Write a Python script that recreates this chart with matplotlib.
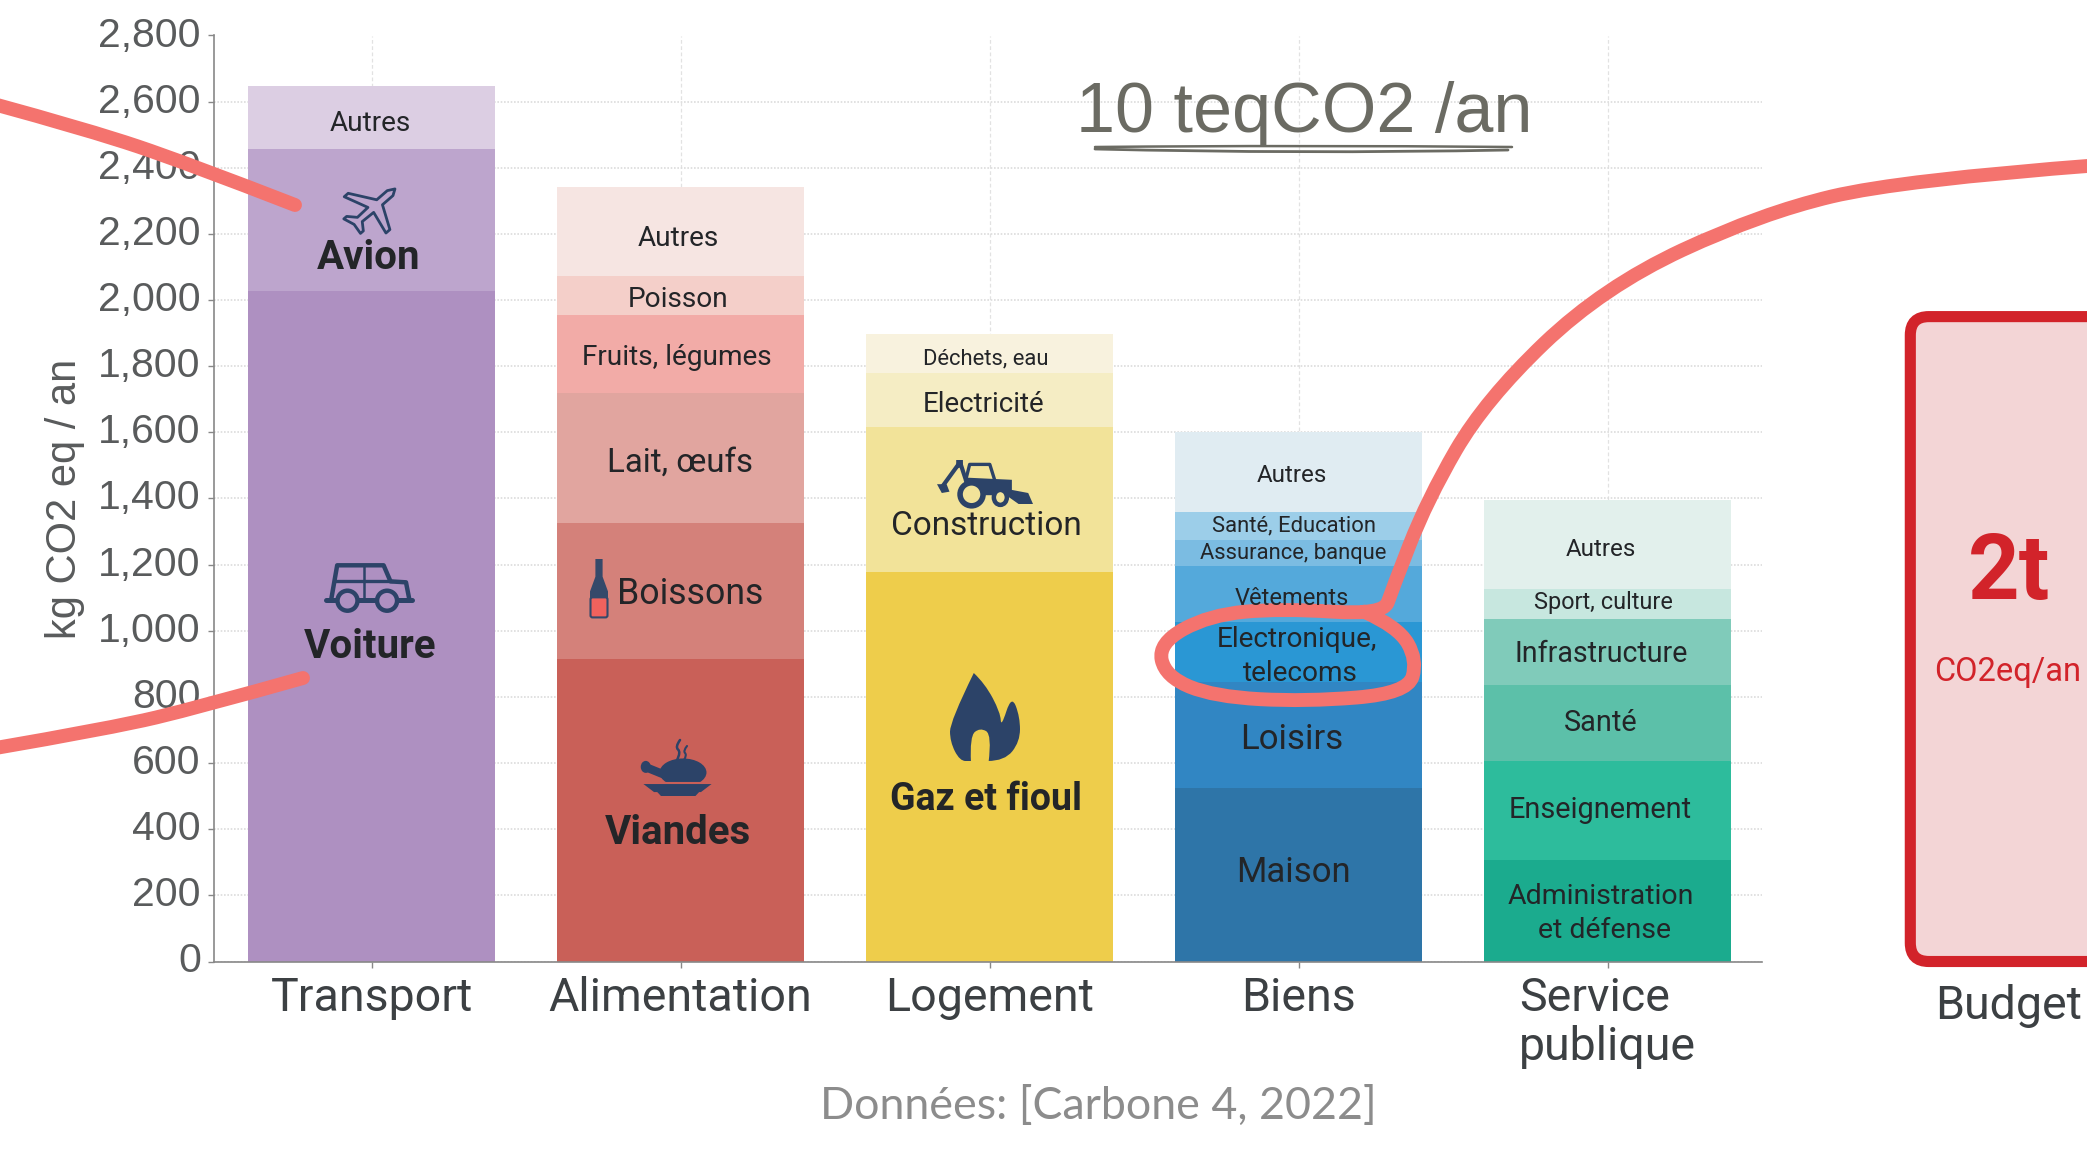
import matplotlib
matplotlib.use('Agg')
import matplotlib.pyplot as plt
from matplotlib.patches import FancyBboxPatch, PathPatch, Polygon, Ellipse, Wedge
from matplotlib.path import Path
from matplotlib.ticker import FuncFormatter
import numpy as np

categories = ['Transport', 'Alimentation', 'Logement', 'Biens', 'Service\npublique']

transport = [2027, 430, 191]
alimentation = [916, 411, 391, 238, 117, 270]
logement = [1177, 440, 161, 119]
biens = [524, 321, 182, 170, 79, 82, 242]
service = [306, 300, 230, 200, 91, 269]
budget = 1950

transport_colors = ['#ae90c1', '#bda5cd', '#dccee3']
alimentation_colors = ['#c96058', '#d4817a', '#e1a59f', '#f2aba7', '#f4cfc9', '#f6e5e2']
logement_colors = ['#eecd4b', '#f2e399', '#f5edc4', '#f8f2de']
biens_colors = ['#2e75a8', '#3186c3', '#2a97d4', '#54a9db', '#7bbce2', '#9ccee9', '#e0ecf2']
service_colors = ['#1bab8e', '#2dbc9c', '#5cc0a9', '#80cbba', '#c7e7df', '#e2f0ec']

# text, x, y (pixels), size, bold
labels = [
    ('Autres', 370, 123, 20.2, False), ('Avion', 369, 258, 29, True), ('Voiture', 370, 647, 29, True),
    ('Autres', 678, 238, 20.2, False), ('Poisson', 678, 299, 20.2, False),
    ('Fruits, légumes', 677, 357, 20.2, False), ('Lait, œufs', 680, 463, 23.8, False),
    ('Boissons', 690, 594, 25.7, False), ('Viandes', 678, 833, 29, True),
    ('Déchets, eau', 986, 359, 15.8, False), ('Electricité', 984, 404, 20, False),
    ('Construction', 986, 526, 24, False), ('Gaz et fioul', 986, 799, 27, True),
    ('Autres', 1292, 475, 17.4, False), ('Santé, Education', 1294, 526, 15.8, False),
    ('Assurance, banque', 1293, 553, 15.8, False), ('Vêtements', 1292, 598, 17, False),
    ('Electronique,', 1297, 639, 20.2, False), ('telecoms', 1300, 673, 20.2, False),
    ('Loisirs', 1292, 739, 25, False), ('Maison', 1293, 872, 25, False),
    ('Autres', 1601, 549, 17.4, False), ('Sport, culture', 1603, 602, 16.9, False),
    ('Infrastructure', 1601, 654, 20.6, False), ('Santé', 1601, 723, 20.8, False),
    ('Enseignement', 1600, 810, 20.8, False), ('Administration', 1601, 896, 20.5, False),
    ('et défense', 1604, 930, 20.5, False),
]

W, H = 2087, 1151
NAVY = '#2c4368'
SALMON = '#f4736e'
RED = '#d2232a'
ROBOTO = 'Roboto'
HELV = 'Liberation Sans'


def smooth_path(pts, closed=False):
    # quadratic spline through the midpoints of the given points
    pts = np.array(pts, dtype=float)
    verts = [pts[0]]
    codes = [Path.MOVETO]
    for i in range(1, len(pts) - 1):
        end = pts[i + 1] if i == len(pts) - 2 else (pts[i] + pts[i + 1]) / 2
        verts += [pts[i], end]
        codes += [Path.CURVE3, Path.CURVE3]
    return Path(verts, codes)


def stroke(ov, pts, lw=10, color=SALMON):
    ov.add_patch(PathPatch(smooth_path(pts), fill=False, ec=color, lw=lw,
                           capstyle='round', joinstyle='round'))


def draw_plane(ov, cx, cy, s):
    right = [(0, -1), (.13, -.78), (.13, -.3), (.95, .18), (.95, .36), (.13, .1),
             (.11, .6), (.38, .82), (.38, .95), (0, .86)]
    left = [(-x, y) for x, y in right[-2:0:-1]]
    p = np.array(right + left)
    a = np.radians(45)
    rot = np.array([[np.cos(a), -np.sin(a)], [np.sin(a), np.cos(a)]])
    p = p @ rot.T
    p = p * [s * 1.15, s] + [cx, cy]
    ov.add_patch(Polygon(p, closed=True, fill=False, ec=NAVY, lw=2, joinstyle='round'))


def draw_car(ov, x0, y0, w, h, bg):
    def m(pts):
        return [(x0 + x * w, y0 + y * h) for x, y in pts]
    body = m([(.06, .8), (.13, .05), (.67, .05), (.75, .4), (.93, .42), (.97, .8)])
    ov.plot(*zip(*body), color=NAVY, lw=3.2, solid_joinstyle='round')
    ov.plot(*zip(*m([(0, .8), (1, .8)])), color=NAVY, lw=3.6, solid_capstyle='round')
    ov.plot(*zip(*m([(.11, .4), (.75, .4)])), color=NAVY, lw=2.4)
    ov.plot(*zip(*m([(.44, .05), (.44, .8)])), color=NAVY, lw=1.8)
    for wx in [.25, .71]:
        ov.add_patch(Ellipse((x0 + wx * w, y0 + .82 * h), 20, 20, fc=bg, ec=NAVY, lw=3.2, zorder=3))


def draw_bottle(ov, x0, y0, w, h):
    shape = [(.3, 0), (.7, 0), (.7, .3), (1, .55), (1, .97), (0, .97), (0, .55), (.3, .3)]
    ov.add_patch(Polygon([(x0 + x * w, y0 + y * h) for x, y in shape], fc='#35496a', ec='none'))
    ov.add_patch(FancyBboxPatch((x0 + .5, y0 + .65 * h), w - 1, .34 * h, boxstyle='round,pad=0,rounding_size=2',
                                fc='#f0625d', ec='#35496a', lw=1.5))


def draw_roast(ov, x0, y0, w, h):
    cx = x0 + .58 * w
    ov.add_patch(Ellipse((cx, y0 + .58 * h), .68 * w, .5 * h, fc=NAVY, ec='none'))
    ov.plot([x0 + .07 * w, x0 + .33 * w], [y0 + .5 * h, y0 + .63 * h], color=NAVY, lw=6, solid_capstyle='round')
    ov.add_patch(Ellipse((x0 + .04 * w, y0 + .48 * h), 10, 12, fc=NAVY, ec='none'))
    ov.plot([x0 + .02 * w, x0 + w], [y0 + .76 * h, y0 + .76 * h], color='#c96058', lw=1.5, zorder=3)
    ov.add_patch(Polygon([(x0, y0 + .78 * h), (x0 + w, y0 + .78 * h), (x0 + .84 * w, y0 + .93 * h),
                          (x0 + .16 * w, y0 + .93 * h)], fc=NAVY, ec='none'))
    ov.add_patch(Polygon([(x0 + .2 * w, y0 + .92 * h), (x0 + .82 * w, y0 + .92 * h), (x0 + .76 * w, y0 + h),
                          (x0 + .26 * w, y0 + h)], fc=NAVY, ec='none'))
    stroke(ov, [(cx - 3, y0), (cx - 8, y0 + 7), (cx - 2, y0 + 12), (cx - 6, y0 + 20)], lw=1.8, color=NAVY)
    stroke(ov, [(cx + 4, y0 + 6), (cx, y0 + 11), (cx + 4, y0 + 15), (cx + 1, y0 + 20)], lw=1.5, color=NAVY)


def draw_backhoe(ov, x0, y0, w, h, bg):
    def m(pts):
        return [(x0 + x * w, y0 + y * h) for x, y in pts]
    ov.add_patch(Polygon(m([(.27, .62), (.3, .4), (.78, .45), (.78, .68), (.95, .75), (1, 1), (.85, 1), (.72, .8), (.3, .8)]),
                         fc=NAVY, ec='none'))
    ov.plot(*zip(*m([(.3, .45), (.34, .1), (.55, .1), (.6, .45)])), color=NAVY, lw=2.4)
    ov.plot(*zip(*m([(.05, .62), (.24, .05), (.3, .45)])), color=NAVY, lw=3)
    ov.add_patch(Polygon(m([(0, .55), (.1, .55), (.13, .72), (.05, .75)]), fc=NAVY, ec='none'))
    ov.add_patch(Polygon(m([(.2, 0), (.27, 0), (.27, .15), (.2, .2)]), fc=NAVY, ec='none'))
    ov.add_patch(Ellipse(m([(.36, .78)])[0], 23, 23, fc=bg, ec=NAVY, lw=4, zorder=3))
    ov.add_patch(Ellipse(m([(.66, .85)])[0], 13, 15, fc=bg, ec=NAVY, lw=3.2, zorder=3))


def draw_flame(ov, x0, y0, w, h, bg):
    def m(pts):
        return [(x0 + x * w, y0 + y * h) for x, y in pts]
    outline = m([(.34, 0), (.0, .55), (.0, .78), (.14, 1), (.3, 1), (.78, 1), (1, .78), (1, .5), (.88, .25),
                 (.73, .62), (.72, .45), (.5, .12), (.34, 0)])
    ov.add_patch(PathPatch(smooth_path(outline), fc=NAVY, ec='none'))
    hole = m([(.3, 1.02), (.28, .72), (.43, .62), (.6, .7), (.55, 1.02)])
    ov.add_patch(PathPatch(smooth_path(hole), fc=bg, ec='none'))


fig = plt.figure(figsize=(W / 100, H / 100), dpi=100, facecolor='white')
ax = fig.add_axes([214 / W, 1 - 961.5 / H, (1762 - 214) / W, (961.5 - 35.5) / H])

x_pos = np.arange(5)
series = [transport, alimentation, logement, biens, service]
colors = [transport_colors, alimentation_colors, logement_colors, biens_colors, service_colors]
for x, vals, cols in zip(x_pos, series, colors):
    bottoms = np.concatenate([[0], np.cumsum(vals)[:-1]])
    ax.bar(x, vals, width=0.8, bottom=bottoms, color=cols, zorder=2)

# budget bar runs off the right side of the picture
ax.add_patch(FancyBboxPatch((4.98, 0), 0.8, budget, boxstyle='round,pad=0,rounding_size=0.06',
                            mutation_aspect=936, fc='#f3d5d6', ec=RED, lw=8, clip_on=False, zorder=2))

ax.set_xlim(-0.51, 4.5)
ax.set_ylim(0, 2800)
ax.set_yticks(np.arange(0, 2801, 200))
ax.yaxis.set_major_formatter(FuncFormatter(lambda v, p: f'{int(v):,}'))
ax.set_xticks(x_pos)
ax.set_xticklabels(categories, fontfamily=ROBOTO, fontsize=33.5, color='#3c4043', linespacing=1.14,
                   multialignment='left')
for t in ax.get_yticklabels():
    t.set_fontfamily(HELV)
    t.set_verticalalignment('center')
ax.tick_params(axis='y', labelsize=29.5, labelcolor='#595b5c', color='#888888', length=4.5, width=1, pad=5)
ax.tick_params(axis='x', color='#888888', length=4.5, width=1, pad=6)
ax.grid(axis='y', color='#dcdcdc', ls=(0, (1, 1)), lw=1.2, zorder=0)
ax.grid(axis='x', color='#e2e2e2', ls=(0, (3, 2)), lw=0.9, zorder=0)
ax.set_axisbelow(True)
for s in ['top', 'right']:
    ax.spines[s].set_visible(False)
for s in ['left', 'bottom']:
    ax.spines[s].set_color('#888888')
    ax.spines[s].set_linewidth(1.2)

# overlay in picture pixels for the hand drawn notes and the labels
ov = fig.add_axes([0, 0, 1, 1], facecolor='none')
ov.set_xlim(0, W)
ov.set_ylim(H, 0)
ov.axis('off')

for text, x, y, size, bold in labels:
    ov.text(x, y, text, ha='center', va='center', fontfamily=ROBOTO, fontsize=size,
            fontweight='bold' if bold else 'normal', color='#232528')

ov.text(65, 499, 'kg CO2 eq / an', rotation=90, ha='center', va='center', fontfamily=HELV,
        fontsize=30, color='#595b5c')
ov.text(1304, 114, '10 teqCO2 /an', ha='center', va='center', fontfamily=HELV, fontsize=50.5, color='#6b6b63')
ov.text(1098, 1106, 'Données: [Carbone 4, 2022]', ha='center', va='center', fontfamily='Lato', fontsize=32.2,
        color='#8c8c8c')
ov.text(1935, 1006, 'Budget', ha='left', va='center', fontfamily=ROBOTO, fontsize=33.5, color='#3c4043')
ov.text(2009, 574, '2t', ha='center', va='center', fontfamily=ROBOTO, fontsize=65, fontweight='bold', color=RED)
ov.text(2008, 672, 'CO2eq/an', ha='center', va='center', fontfamily=ROBOTO, fontsize=23.5, color=RED)

stroke(ov, [(1095, 147), (1300, 145), (1512, 147)], lw=1.8, color='#6b6b63')
stroke(ov, [(1095, 149), (1300, 154), (1508, 150)], lw=2, color='#6b6b63')

draw_plane(ov, 373, 208, 27)
draw_car(ov, 326, 563, 86, 46, '#ae90c1')
draw_bottle(ov, 590, 559, 18, 59)
draw_roast(ov, 643, 740, 69, 56)
draw_backhoe(ov, 937, 460, 96, 44, '#f2e399')
draw_flame(ov, 950, 673, 70, 88, '#eecd4b')

stroke(ov, [(-10, 103), (89, 130), (187, 163), (295, 205)])
stroke(ov, [(-10, 749), (112, 728), (200, 707), (303, 678)])

z3 = lambda x, y: (x / 2.063 + 700, y / 3 + 300)
loop = [(2100, 165), (1901, 180), (1762, 213), (1603, 287), (1485, 400), (1427, 500), (1392, 590)]
loop += [z3(*p) for p in [(1410, 945), (1200, 925), (1050, 945), (945, 1030), (960, 1130), (1060, 1190),
                          (1250, 1205), (1460, 1180), (1480, 1080), (1440, 980), (1370, 935)]]
stroke(ov, loop)

fig.savefig('out.png', dpi=100)
